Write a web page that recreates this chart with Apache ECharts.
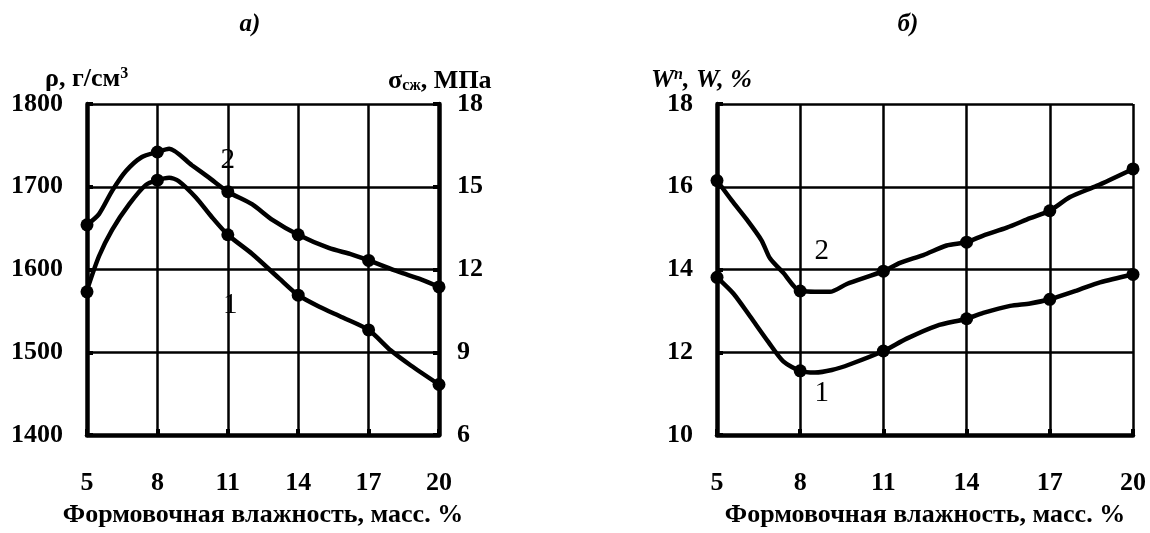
<!DOCTYPE html>
<html>
<head>
<meta charset="utf-8">
<script src="https://cdn.jsdelivr.net/npm/echarts@6/dist/echarts.min.js"></script>
<style>
html,body{margin:0;padding:0;background:#fff;}
#c{width:1150px;height:533px;}
</style>
</head>
<body>
<div id="c"></div>
<script>
// ---------- DATA ----------
var xTicks = [5, 8, 11, 14, 17, 20];

// Panel а): curve 1 = density ρ (left axis), curve 2 = strength σсж (right axis)
var rho1Markers = [1573, 1708, 1642, 1569, 1527, 1461];
var rho1CurveX = [5, 5.51, 6.07, 6.8, 7.5, 8, 8.5, 8.9, 9.64, 10.3, 11, 12.03, 13.2, 14, 14.9, 15.9, 17, 17.95, 18.8, 20];
var rho1CurveY = [1575, 1616, 1648, 1679, 1702, 1708, 1711, 1707, 1687, 1664, 1642, 1619, 1589, 1569, 1555, 1542, 1527, 1502, 1484, 1461];

var sigma2Markers = [13.62, 16.26, 14.82, 13.26, 12.33, 11.37];
var sigma2CurveX = [5, 5.51, 6.07, 6.66, 7.34, 8, 8.5, 9.47, 10.2, 11, 12.03, 12.9, 14, 15.3, 16.3, 17, 18.3, 19.15, 20];
var sigma2CurveY = [13.62, 14.01, 14.85, 15.57, 16.08, 16.26, 16.38, 15.78, 15.33, 14.82, 14.37, 13.80, 13.26, 12.78, 12.54, 12.33, 11.91, 11.67, 11.37];

// Panel б): curve 1 = W, curve 2 = Wп
var w1Markers = [13.81, 11.55, 12.03, 12.81, 13.28, 13.88];
var w1CurveX = [5, 5.59, 6.19, 6.85, 7.39, 8, 8.53, 9.14, 9.8, 11, 11.84, 12.92, 14, 14.6, 15.57, 16.29, 17, 17.97, 18.81, 20];
var w1CurveY = [13.81, 13.42, 12.87, 12.25, 11.78, 11.55, 11.51, 11.57, 11.71, 12.03, 12.33, 12.64, 12.81, 12.95, 13.12, 13.18, 13.28, 13.49, 13.69, 13.88];

var w2Markers = [16.15, 13.48, 13.96, 14.66, 15.42, 16.43];
var w2CurveX = [5, 5.53, 6.07, 6.61, 6.91, 7.39, 8, 9.07, 9.68, 11, 11.6, 12.44, 13.28, 14, 14.6, 15.45, 16.29, 17, 17.73, 18.69, 20];
var w2CurveY = [16.15, 15.67, 15.21, 14.70, 14.27, 13.92, 13.48, 13.46, 13.65, 13.96, 14.16, 14.35, 14.58, 14.66, 14.82, 15.01, 15.24, 15.42, 15.75, 16.02, 16.43];

// curve number labels (positions in data space)
var labelsA = [{t: '2', x: 11, y: 15.95}, {t: '1', x: 11.1, y: 1557}];
var labelsB = [{t: '2', x: 8.78, y: 14.43}, {t: '1', x: 8.78, y: 11.01}];

// ---------- HELPERS ----------
var FONT = "'Liberation Serif','Times New Roman',serif";
function zip(xs, ys) { return xs.map(function (x, i) { return [x, ys[i]]; }); }
function zipMarkers(ys) { return xTicks.map(function (x, i) { return [x, ys[i]]; }); }
function plain(v) { return String(v); }

var tickLabel = {color: '#000', fontFamily: FONT, fontWeight: 'bold', fontSize: 26, formatter: plain};
var gridLine = {show: true, lineStyle: {color: '#000', width: 2.5}};
var thickAxis = {show: true, onZero: false, lineStyle: {color: '#000', width: 4.5}};
var stubTick = {show: true, inside: true, length: 6, lineStyle: {color: '#000', width: 4}};

function lineSeries(xi, yi, data) {
  return {type: 'line', xAxisIndex: xi, yAxisIndex: yi, data: data, symbol: 'none', smooth: 0.25,
    lineStyle: {color: '#000', width: 4.5, opacity: 1}, z: 3, silent: true, animation: false};
}
function dotSeries(xi, yi, data) {
  return {type: 'scatter', xAxisIndex: xi, yAxisIndex: yi, data: data, symbol: 'circle', symbolSize: 13,
    itemStyle: {color: '#000', opacity: 1}, z: 4, silent: true, animation: false};
}
function textSeries(xi, yi, items) {
  return {type: 'scatter', xAxisIndex: xi, yAxisIndex: yi, symbol: 'circle', symbolSize: 1,
    itemStyle: {color: 'rgba(255,255,255,0)', opacity: 1},
    data: items.map(function (d) { return {value: [d.x, d.y], label: {formatter: d.t}}; }),
    label: {show: true, position: 'inside', color: '#000', opacity: 1, fontFamily: FONT, fontSize: 29, fontWeight: 'normal'},
    z: 5, silent: true, animation: false};
}

var xAxisCommon = function (gi) {
  return {type: 'value', gridIndex: gi, min: 5, max: 20, interval: 3,
    axisLine: thickAxis, axisTick: stubTick, splitLine: gridLine,
    axisLabel: Object.assign({margin: 35}, tickLabel),
    name: 'Формовочная влажность, масс. %', nameLocation: 'middle', nameGap: 67,
    nameTextStyle: {color: '#000', fontFamily: FONT, fontWeight: 'bold', fontSize: 26}};
};

var option = {
  backgroundColor: '#fff',
  animation: false,
  grid: [
    {left: 87, top: 104, width: 352, height: 339},
    {left: 717, top: 104, width: 416, height: 339}
  ],
  xAxis: [xAxisCommon(0), xAxisCommon(1)],
  yAxis: [
    {type: 'value', gridIndex: 0, min: 1400, max: 1800, interval: 100, position: 'left',
      axisLine: thickAxis, axisTick: stubTick, splitLine: gridLine,
      axisLabel: Object.assign({margin: 24}, tickLabel)},
    {type: 'value', gridIndex: 0, min: 6, max: 18, interval: 3, position: 'right',
      axisLine: thickAxis, axisTick: stubTick, splitLine: {show: false},
      axisLabel: Object.assign({margin: 18}, tickLabel)},
    {type: 'value', gridIndex: 1, min: 10, max: 18, interval: 2, position: 'left',
      axisLine: thickAxis, axisTick: stubTick, splitLine: gridLine,
      axisLabel: Object.assign({margin: 24}, tickLabel)}
  ],
  series: [
    lineSeries(0, 0, zip(rho1CurveX, rho1CurveY)),
    dotSeries(0, 0, zipMarkers(rho1Markers)),
    lineSeries(0, 1, zip(sigma2CurveX, sigma2CurveY)),
    dotSeries(0, 1, zipMarkers(sigma2Markers)),
    textSeries(0, 1, [labelsA[0]]),
    textSeries(0, 0, [labelsA[1]]),
    lineSeries(1, 2, zip(w1CurveX, w1CurveY)),
    dotSeries(1, 2, zipMarkers(w1Markers)),
    lineSeries(1, 2, zip(w2CurveX, w2CurveY)),
    dotSeries(1, 2, zipMarkers(w2Markers)),
    textSeries(1, 2, labelsB)
  ],
  graphic: [
    {type: 'text', x: 250, y: 25, style: {text: 'а)', textAlign: 'center', align: 'center', textVerticalAlign: 'middle', verticalAlign: 'middle',
      font: "italic bold 25px " + FONT, fill: '#000'}},
    {type: 'text', x: 908, y: 25, style: {text: 'б)', textAlign: 'center', align: 'center', textVerticalAlign: 'middle', verticalAlign: 'middle',
      font: "italic bold 25px " + FONT, fill: '#000'}},
    {type: 'text', x: 45, y: 79, style: {text: '{a|ρ, г/см}{s|3}', textVerticalAlign: 'middle', verticalAlign: 'middle',
      rich: {a: {font: "bold 26px " + FONT, fill: '#000', color: '#000'}, s: {font: "bold 16px " + FONT, fill: '#000', color: '#000', verticalAlign: 'top'}}}},
    {type: 'text', x: 388, y: 81, style: {text: '{a|σ}{s|сж}{a|, МПа}', textVerticalAlign: 'middle', verticalAlign: 'middle',
      rich: {a: {font: "bold 26px " + FONT, fill: '#000', color: '#000'}, s: {font: "bold 16px " + FONT, fill: '#000', color: '#000', verticalAlign: 'bottom'}}}},
    {type: 'text', x: 651, y: 80, style: {text: '{a|W}{s|п}{a|, W, %}', textVerticalAlign: 'middle', verticalAlign: 'middle',
      rich: {a: {font: "italic bold 26px " + FONT, fill: '#000', color: '#000'}, s: {font: "italic bold 16px " + FONT, fill: '#000', color: '#000', verticalAlign: 'top'}}}}
  ]
};

var chart = echarts.init(document.getElementById('c'), null, {renderer: 'canvas'});
chart.setOption(option);
</script>
</body>
</html>
